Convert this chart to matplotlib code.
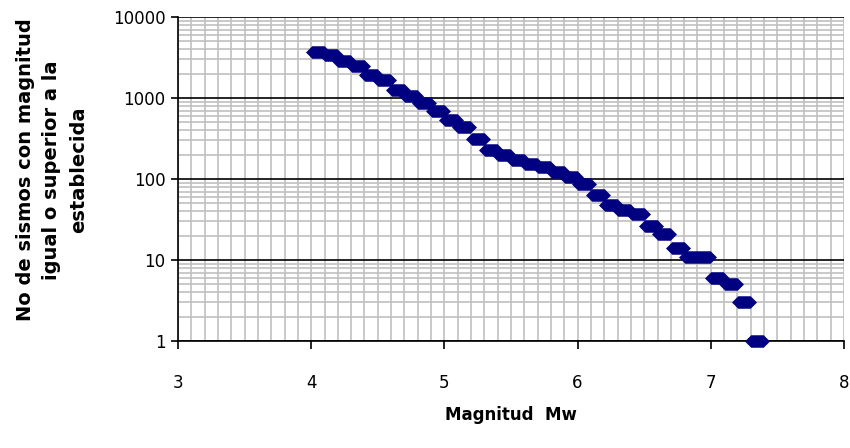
import matplotlib
matplotlib.use("Agg")
import matplotlib.pyplot as plt
from matplotlib.path import Path
from matplotlib.ticker import LogLocator, MultipleLocator, FixedLocator, NullFormatter
import numpy as np

# Magnitude bins and cumulative number of events (N >= M)
magnitud = [4.05, 4.15, 4.25, 4.35, 4.45, 4.55, 4.65, 4.75, 4.85, 4.95,
            5.05, 5.15, 5.25, 5.35, 5.45, 5.55, 5.65, 5.75, 5.85, 5.95,
            6.05, 6.15, 6.25, 6.35, 6.45, 6.55, 6.65, 6.75, 6.85, 6.95,
            7.05, 7.15, 7.25, 7.35]
n_sismos = [3700, 3400, 2850, 2450, 1950, 1650, 1270, 1060, 870, 690,
            530, 440, 310, 230, 200, 172, 153, 140, 122, 106,
            87, 63, 48, 41, 37, 26, 21, 14, 11, 11,
            6, 5, 3, 1]

x_ticks = [3, 4, 5, 6, 7, 8]
y_ticks = [1, 10, 100, 1000, 10000]
y_ticklabels = ["1", "10", "100", "1000", "10000"]

navy = "#000080"
grid_gray = "#c0c0c0"

# wide hexagonal "diamond" like the excel marker
hexa = Path([(-1, 0), (-0.5, 0.5), (0.5, 0.5), (1, 0), (0.5, -0.5), (-0.5, -0.5), (-1, 0)],
            [Path.MOVETO] + [Path.LINETO] * 5 + [Path.CLOSEPOLY])

fig = plt.figure(figsize=(8.5, 4.48), dpi=100)
ax = fig.add_axes([178 / 850, 1 - 341 / 448, (844 - 178) / 850, (341 - 17) / 448])

ax.set_yscale("log")
ax.set_xlim(3, 8)
ax.set_ylim(1, 10000)

ax.xaxis.set_major_locator(FixedLocator(x_ticks))
ax.xaxis.set_minor_locator(MultipleLocator(0.1))
ax.yaxis.set_major_locator(FixedLocator(y_ticks))
ax.yaxis.set_minor_locator(LogLocator(base=10, subs=np.arange(2, 10)))
ax.yaxis.set_minor_formatter(NullFormatter())
ax.set_yticklabels(y_ticklabels)

ax.grid(True, which="minor", axis="both", color=grid_gray, linewidth=1.2)
ax.grid(True, which="major", axis="x", color=grid_gray, linewidth=1.2)
ax.grid(True, which="major", axis="y", color="black", linewidth=1.2)
ax.set_axisbelow(True)

ax.plot(magnitud, n_sismos, linestyle="none", marker=hexa, markersize=18,
        color=navy, markeredgewidth=0, clip_on=False, zorder=3)

for s in ["top", "right"]:
    ax.spines[s].set_visible(False)
for s in ["left", "bottom"]:
    ax.spines[s].set_color("black")
    ax.spines[s].set_linewidth(1.2)

ax.tick_params(which="minor", length=0)
ax.tick_params(axis="x", which="major", direction="out", length=6, width=1.2,
               labelsize=12, pad=18)
ax.tick_params(axis="y", which="major", direction="out", length=5, width=1.2,
               labelsize=12, pad=4)

ax.set_xlabel("Magnitud  Mw", fontsize=12, fontweight="bold", labelpad=10)

# y label as figure text, three centred lines
fig.text(52 / 850, 1 - 170 / 448,
         "No de sismos con magnitud\nigual o superior a la\nestablecida",
         rotation=90, ha="center", va="center", multialignment="center",
         fontsize=14, fontweight="bold", linespacing=1.5)

fig.savefig("out.png", dpi=100)
